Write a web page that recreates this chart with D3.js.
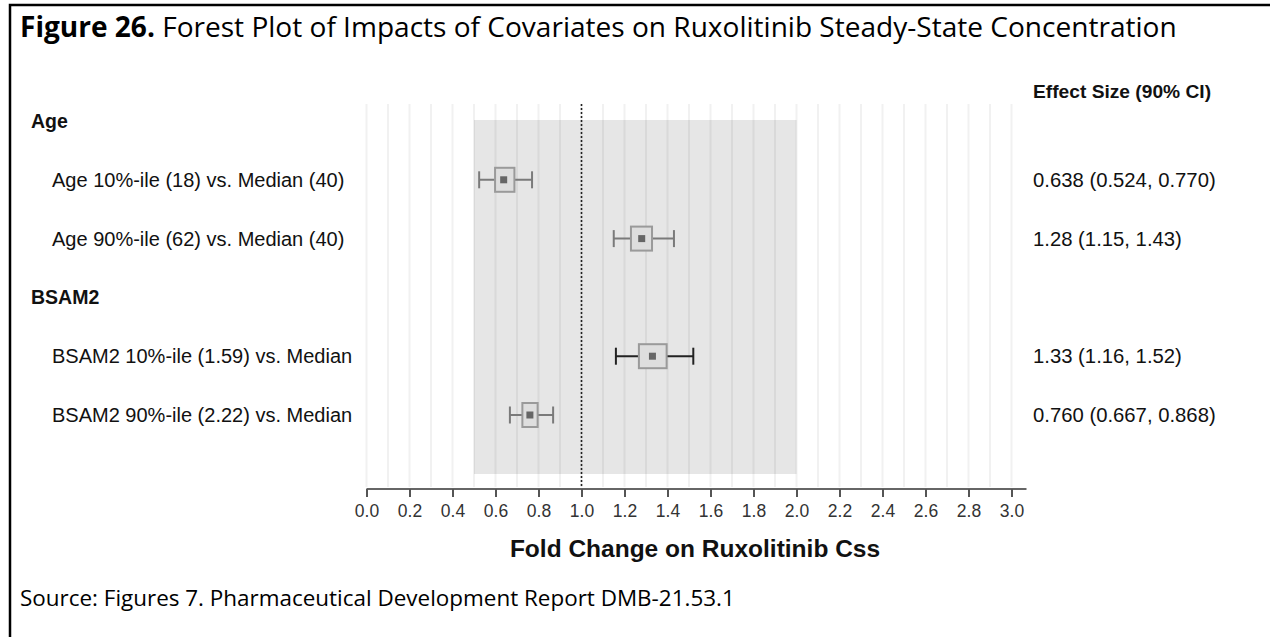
<!DOCTYPE html>
<html>
<head>
<meta charset="utf-8">
<script src="https://cdn.jsdelivr.net/npm/d3@7"></script>
<style>
  html, body { margin: 0; padding: 0; background: #fff; }
  svg { display: block; }
</style>
</head>
<body>
<svg id="chart" width="1270" height="637"></svg>
<script>
// ---------------- data ----------------
const rowLabels = [
  "Age",
  "Age 10%-ile (18) vs. Median (40)",
  "Age 90%-ile (62) vs. Median (40)",
  "BSAM2",
  "BSAM2 10%-ile (1.59) vs. Median",
  "BSAM2 90%-ile (2.22) vs. Median"
];
const isHeader = [true, false, false, true, false, false];
const estimates = [null, 0.638, 1.28, null, 1.33, 0.760];
const ciLower   = [null, 0.524, 1.15, null, 1.16, 0.667];
const ciUpper   = [null, 0.770, 1.43, null, 1.52, 0.868];
const boxLower  = [null, 0.598, 1.230, null, 1.267, 0.725];
const boxUpper  = [null, 0.688, 1.328, null, 1.396, 0.796];
const effectText = ["", "0.638 (0.524, 0.770)", "1.28 (1.15, 1.43)", "", "1.33 (1.16, 1.52)", "0.760 (0.667, 0.868)"];
const tickValues = [0.0, 0.2, 0.4, 0.6, 0.8, 1.0, 1.2, 1.4, 1.6, 1.8, 2.0, 2.2, 2.4, 2.6, 2.8, 3.0];
const gridValues = d3.range(0, 31).map(i => i / 10);
const referenceBand = [0.5, 2.0];
const referenceLine = 1.0;
const titleBold = "Figure 26.";
const titleRest = " Forest Plot of Impacts of Covariates on Ruxolitinib Steady-State Concentration";
const xAxisTitle = "Fold Change on Ruxolitinib Css";
const effectHeader = "Effect Size (90% CI)";
const sourceText = "Source: Figures 7. Pharmaceutical Development Report DMB-21.53.1";

// ---------------- layout ----------------
const svg = d3.select("#chart");
const x = d3.scaleLinear().domain([0, 3]).range([366.5, 1011.5]);
const y = d3.scaleLinear().domain([0, 5]).range([121, 415]);
const plotTop = 104, axisY = 489;
const armFont = "'Liberation Sans', Arial, sans-serif";
const docFont = "'Open Sans', 'Noto Sans', sans-serif";

function fit(sel, target) {
  const size = parseFloat(sel.attr("font-size"));
  const len = sel.node().getComputedTextLength();
  sel.attr("font-size", (size * target / len).toFixed(2));
}

// frame (top + left visible)
svg.append("rect").attr("x", 10).attr("y", 5).attr("width", 1300).attr("height", 700)
  .attr("fill", "none").attr("stroke", "#000").attr("stroke-width", 2.5);

// title
const title = svg.append("text").attr("x", 20).attr("y", 37)
  .attr("font-family", docFont).attr("font-size", 22).attr("fill", "#000");
title.append("tspan").attr("font-weight", "bold").text(titleBold);
title.append("tspan").text(titleRest);
fit(title, 1157);

// reference band
svg.append("rect")
  .attr("x", x(referenceBand[0])).attr("y", y(0) - 1)
  .attr("width", x(referenceBand[1]) - x(referenceBand[0]))
  .attr("height", 474 - (y(0) - 1))
  .attr("fill", "#e6e6e6");

// grid lines
svg.append("g").selectAll("line").data(gridValues).join("line")
  .attr("x1", d => x(d)).attr("x2", d => x(d))
  .attr("y1", plotTop).attr("y2", axisY - 2)
  .attr("stroke", "rgba(0,0,0,0.055)").attr("stroke-width", 2);

// reference line
svg.append("line")
  .attr("x1", x(referenceLine)).attr("x2", x(referenceLine))
  .attr("y1", plotTop).attr("y2", axisY)
  .attr("stroke", "#222").attr("stroke-width", 1.6).attr("stroke-dasharray", "2,2");

// axis
const axis = d3.axisBottom(x).tickValues(tickValues).tickFormat(d3.format(".1f"))
  .tickSize(8).tickSizeOuter(0);
const gAxis = svg.append("g").attr("transform", `translate(0,${axisY})`).call(axis);
gAxis.select(".domain").attr("stroke", "#666").attr("stroke-width", 2)
  .attr("d", `M${x(0)},0H${x(3) + 15}`);
gAxis.selectAll(".tick line").attr("stroke", "#555").attr("stroke-width", 2);
gAxis.selectAll(".tick text").attr("font-family", armFont).attr("font-size", 17.5)
  .attr("fill", "#333").attr("dy", "0.95em");

// axis title
svg.append("text").attr("x", 695).attr("y", 557).attr("text-anchor", "middle")
  .attr("font-family", armFont).attr("font-weight", "bold").attr("font-size", 24.5)
  .attr("fill", "#111").text(xAxisTitle);

// row labels
const rows = d3.range(rowLabels.length);
svg.append("g").selectAll("text").data(rows).join("text")
  .attr("x", i => isHeader[i] ? 31 : 52)
  .attr("y", i => y(i) + 7)
  .attr("font-family", armFont)
  .attr("font-weight", i => isHeader[i] ? "bold" : "normal")
  .attr("font-size", i => isHeader[i] ? 19.5 : 20)
  .attr("fill", "#111")
  .text(i => rowLabels[i]);

// effect header + values
svg.append("text").attr("x", 1033).attr("y", 98)
  .attr("font-family", armFont).attr("font-weight", "bold").attr("font-size", 19.2)
  .attr("fill", "#111").text(effectHeader);
svg.append("g").selectAll("text").data(rows.filter(i => !isHeader[i])).join("text")
  .attr("x", 1033).attr("y", i => y(i) + 7)
  .attr("font-family", armFont).attr("font-size", 20.3).attr("fill", "#111")
  .text(i => effectText[i]);

// forest marks
const dataRows = rows.filter(i => estimates[i] != null);
const whiskColor = i => i === 4 ? "#222" : "#7a7a7a";
const g = svg.append("g");
dataRows.forEach(i => {
  const cy = y(i);
  g.append("line").attr("x1", x(ciLower[i])).attr("x2", x(ciUpper[i]))
    .attr("y1", cy).attr("y2", cy).attr("stroke", whiskColor(i)).attr("stroke-width", 2);
  [ciLower[i], ciUpper[i]].forEach(v => {
    g.append("line").attr("x1", x(v)).attr("x2", x(v))
      .attr("y1", cy - 8.5).attr("y2", cy + 8.5)
      .attr("stroke", whiskColor(i)).attr("stroke-width", 2);
  });
  g.append("rect").attr("x", x(boxLower[i])).attr("y", cy - 12)
    .attr("width", x(boxUpper[i]) - x(boxLower[i])).attr("height", 24)
    .attr("fill", "#dedede").attr("stroke", "#9a9a9a").attr("stroke-width", 2);
  g.append("rect").attr("x", x(estimates[i]) - 3.5).attr("y", cy - 3.5)
    .attr("width", 7).attr("height", 7).attr("fill", "#666");
});

// source
const src = svg.append("text").attr("x", 20).attr("y", 606)
  .attr("font-family", docFont).attr("font-size", 18).attr("fill", "#000").text(sourceText);
fit(src, 715);
</script>
</body>
</html>
